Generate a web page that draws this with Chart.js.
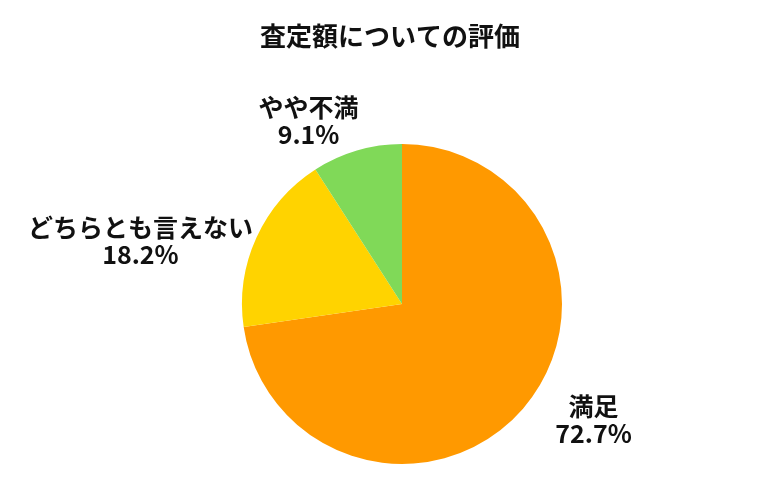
<!DOCTYPE html>
<html>
<head>
<meta charset="utf-8">
<script src="https://cdn.jsdelivr.net/npm/chart.js@4"></script>
<style>
html,body{margin:0;padding:0;background:#fff;}
#wrap{width:780px;height:500px;}
</style>
</head>
<body>
<div id="wrap"><canvas id="c" width="780" height="500"></canvas></div>
<script>
const chartTitle = '査定額についての評価';
const categories = ['満足', 'どちらとも言えない', 'やや不満'];
const values = [72.7, 18.2, 9.1];
const colors = ['#FF9900', '#FFD300', '#80D958'];

const FONT = '"Noto Sans CJK JP", "Noto Sans", sans-serif';

const titlePlugin = {
  id: 'centerTitle',
  afterDraw(chart) {
    const ctx = chart.ctx;
    ctx.save();
    ctx.font = 'bold 26px ' + FONT;
    ctx.fillStyle = '#111';
    ctx.textAlign = 'center';
    ctx.textBaseline = 'middle';
    ctx.fillText(chartTitle, chart.width / 2, 36);
    ctx.restore();
  }
};

const outLabels = {
  id: 'outLabels',
  afterDatasetsDraw(chart) {
    const ctx = chart.ctx;
    const meta = chart.getDatasetMeta(0);
    const ds = chart.data.datasets[0];
    const shift = -10.3 * Math.PI / 180;
    const gap = 18;
    const lineH = 27;
    ctx.save();
    ctx.font = 'bold 25px ' + FONT;
    ctx.fillStyle = '#111';
    ctx.textAlign = 'center';
    ctx.textBaseline = 'middle';
    meta.data.forEach((arc, i) => {
      const p = arc.getProps(['x', 'y', 'startAngle', 'endAngle', 'outerRadius'], true);
      const mid = (p.startAngle + p.endAngle) / 2 + shift;
      const lines = [chart.data.labels[i], ds.data[i].toFixed(1) + '%'];
      const w = Math.max(...lines.map(l => ctx.measureText(l).width));
      const hw = w / 2, hh = lines.length * lineH / 2;
      const dx = Math.cos(mid), dy = Math.sin(mid);
      const tx = Math.abs(dx) > 1e-6 ? hw / Math.abs(dx) : Infinity;
      const ty = Math.abs(dy) > 1e-6 ? hh / Math.abs(dy) : Infinity;
      const t = Math.min(tx, ty, hh * 3.4);
      const r = p.outerRadius + gap + t;
      const cx = p.x + dx * r, cy = p.y + dy * r + 3;
      lines.forEach((l, j) => {
        ctx.fillText(l, cx, cy - hh + lineH / 2 + j * lineH);
      });
    });
    ctx.restore();
  }
};

new Chart(document.getElementById('c'), {
  type: 'pie',
  data: {
    labels: categories,
    datasets: [{
      data: values,
      backgroundColor: colors,
      borderWidth: 0
    }]
  },
  options: {
    responsive: false,
    animation: false,
    layout: { padding: { top: 144, bottom: 36, left: 24, right: 0 } },
    plugins: {
      legend: { display: false },
      title: { display: false },
      tooltip: { enabled: false }
    }
  },
  plugins: [titlePlugin, outLabels]
});
</script>
</body>
</html>
